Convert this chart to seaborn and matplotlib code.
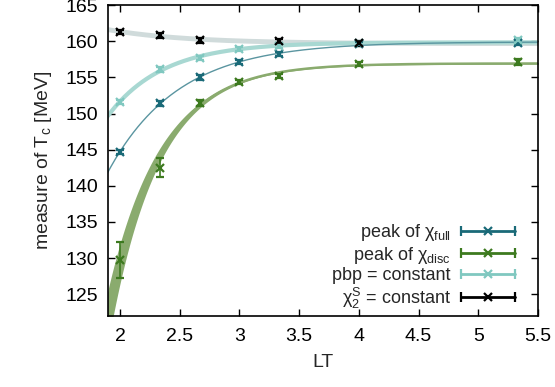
import numpy as np
import pandas as pd
import matplotlib
matplotlib.use("Agg")
import matplotlib.pyplot as plt
import seaborn as sns
from matplotlib.lines import Line2D
from matplotlib.legend_handler import HandlerLine2D, HandlerTuple

# data
lt = [2.0, 7/3, 8/3, 3.0, 10/3, 4.0, 16/3]

full_T = [144.7, 151.4, 155.0, 157.1, 158.2, 159.6, 159.8]
full_err = [0.3, 0.3, 0.3, 0.3, 0.3, 0.3, 0.3]

disc_T = [129.8, 142.5, 151.4, 154.4, 155.2, 156.8, 157.1]
disc_err = [2.5, 1.3, 0.4, 0.3, 0.3, 0.3, 0.4]
disc_band = [2.5, 1.3, 0.3, 0.15, 0.1, 0.08, 0.08]

pbp_lt = [2.0, 7/3, 8/3, 3.0, 10/3, 4.0, 16/3]
pbp_T = [151.6, 156.1, 157.7, 158.9, 159.3, 159.7, 160.1]
pbp_err = [0.3, 0.3, 0.3, 0.3, 0.3, 0.3, 0.4]

chi2_lt = [2.0, 7/3, 8/3, 10/3, 4.0]
chi2_T = [161.3, 160.8, 160.1, 160.0, 159.7]
chi2_err = [0.3, 0.3, 0.3, 0.3, 0.3]

labels = [r"peak of χ$_{\mathrm{full}}$", r"peak of χ$_{\mathrm{disc}}$",
          "pbp = constant", r"χ$_2^{\mathrm{S}}$ = constant"]


def exp_fit(x, y, err):
    # T(LT) = c0 + c1*exp(-b*LT), weighted least squares with a scan over b
    x = np.asarray(x); y = np.asarray(y); w = 1/np.asarray(err)
    best = None
    for b in np.linspace(0.2, 6, 1500):
        A = np.vstack([np.ones_like(x), np.exp(-b*x)]).T
        coef, *_ = np.linalg.lstsq(A*w[:, None], y*w, rcond=None)
        res = np.sum(((A @ coef - y)*w)**2)
        if best is None or res < best[0]:
            best = (res, b, coef)
    _, b, coef = best
    return lambda xx: coef[0] + coef[1]*np.exp(-b*xx)


sns.set_theme(style="ticks")
plt.rcParams["font.family"] = ["Liberation Sans", "DejaVu Sans"]
plt.rcParams["mathtext.fontset"] = "custom"
plt.rcParams["mathtext.rm"] = "Liberation Sans"
plt.rcParams["mathtext.it"] = "Liberation Sans:italic"

fig = plt.figure(figsize=(5.55, 3.87), dpi=100)
ax = fig.add_axes([0.1946, 0.1835, 0.7748, 0.8035])

xx = np.linspace(1.85, 5.6, 400)

c_full, c_full_l = "#1a6a78", "#5a95a0"
c_disc, c_disc_l = "#3d7a1f", "#8aab6e"
c_pbp, c_pbp_l = "#80c8c0", "#a8d8d2"
c_chi2, c_chi2_l = "#000000", "#d0dbdb"

# fit bands
f_chi2 = exp_fit(chi2_lt, chi2_T, chi2_err)
sns.lineplot(x=xx, y=f_chi2(xx), ax=ax, color=c_chi2_l, lw=3.5)

lo = exp_fit(lt, np.array(disc_T) - np.array(disc_band), disc_err)
hi = exp_fit(lt, np.array(disc_T) + np.array(disc_band), disc_err)
ax.fill_between(xx, lo(xx), hi(xx), color=c_disc_l, lw=0)
f_disc = exp_fit(lt, disc_T, disc_err)
sns.lineplot(x=xx, y=f_disc(xx), ax=ax, color=c_disc_l, lw=1.8)

f_pbp = exp_fit(pbp_lt, pbp_T, pbp_err)
sns.lineplot(x=xx, y=f_pbp(xx), ax=ax, color=c_pbp_l, lw=3.0)

f_full = exp_fit(lt, full_T, full_err)
sns.lineplot(x=xx, y=f_full(xx), ax=ax, color=c_full_l, lw=1.0)

# data points
series = [(lt, full_T, full_err, c_full), (lt, disc_T, disc_err, c_disc),
          (pbp_lt, pbp_T, pbp_err, c_pbp), (chi2_lt, chi2_T, chi2_err, c_chi2)]
for x, y, e, c in series:
    ax.errorbar(x, y, yerr=e, fmt="x", color=c, ms=6, mew=1.6,
                elinewidth=1.2, capsize=3, capthick=1.2, zorder=5)

ax.set_xlim(1.9, 5.5)
ax.set_ylim(122, 165)
ax.set_xticks([2, 2.5, 3, 3.5, 4, 4.5, 5, 5.5])
ax.set_xticklabels(["2", "2.5", "3", "3.5", "4", "4.5", "5", "5.5"])
ax.set_yticks(range(125, 166, 5))
ax.tick_params(direction="in", top=True, right=True, length=5, width=1,
               labelsize=14, colors="black")
ax.tick_params(axis="x", pad=9)
ax.tick_params(axis="y", pad=7)
for s in ax.spines.values():
    s.set_linewidth(1.2)
    s.set_color("black")
ax.set_xlabel("LT", fontsize=14, labelpad=6)
ax.set_ylabel(r"measure of T$_{\mathrm{c}}$ [MeV]", fontsize=14, labelpad=8)

# gnuplot-like legend keys: horizontal bar with end caps and a cross
handles = []
hmap = {}
for c in [c_full, c_disc, c_pbp, c_chi2]:
    bar = Line2D([], [], color=c, lw=2.0, marker="|", ms=7, mew=1.6)
    mid = Line2D([], [], color=c, lw=0, marker="x", ms=6, mew=1.6)
    hmap[bar] = HandlerLine2D(numpoints=2, marker_pad=0)
    hmap[mid] = HandlerLine2D(numpoints=1)
    handles.append((bar, mid))
hmap[tuple] = HandlerTuple(ndivide=1)
ax.legend(handles, labels, handler_map=hmap, loc="lower right",
          bbox_to_anchor=(0.959, 0.0), frameon=False,
          markerfirst=False, fontsize=13, handlelength=3.0, handletextpad=0.55,
          labelspacing=0.08, borderaxespad=0.0, borderpad=0.3)

fig.savefig("out.png", dpi=100)
